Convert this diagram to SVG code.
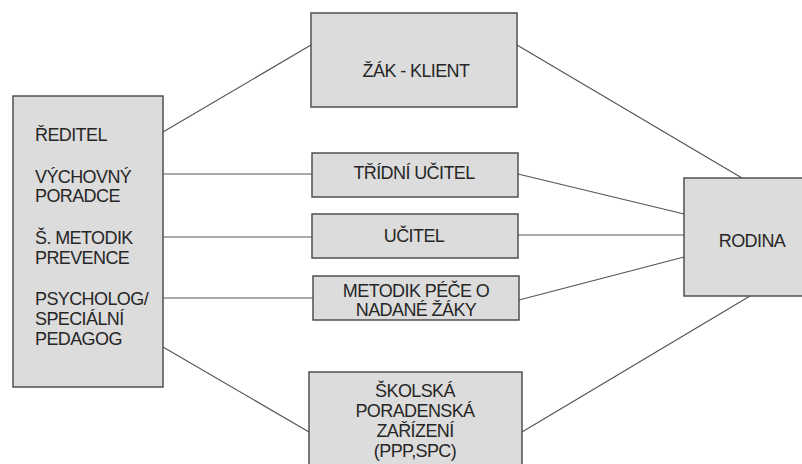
<svg xmlns="http://www.w3.org/2000/svg" width="802" height="464" viewBox="0 0 802 464">
<style>
.box{fill:#dcdcdc;stroke:#505050;stroke-width:1.5}
.ln{stroke:#555;stroke-width:1.2;fill:none}
text{font-family:"Liberation Sans",Arial,sans-serif;font-size:18px;letter-spacing:-0.6px;fill:#262626}
.c{text-anchor:middle}
</style>
<rect width="802" height="464" fill="#fff"/>
<g id="connectors">
<line class="ln" x1="163" y1="132" x2="311" y2="45"/>
<line class="ln" x1="163" y1="174" x2="312" y2="174"/>
<line class="ln" x1="163" y1="237" x2="312" y2="237"/>
<line class="ln" x1="163" y1="298" x2="313" y2="298"/>
<line class="ln" x1="163" y1="347" x2="309" y2="432"/>
<line class="ln" x1="517" y1="45" x2="742" y2="178"/>
<line class="ln" x1="518" y1="174" x2="684" y2="214"/>
<line class="ln" x1="518" y1="235" x2="684" y2="235"/>
<line class="ln" x1="519" y1="300" x2="684" y2="257"/>
<line class="ln" x1="522" y1="432" x2="750" y2="296"/>
</g>
<g id="skola">
<rect class="box" x="13" y="96" width="150" height="291"/>
<text x="35" y="141">ŘEDITEL</text>
<text x="35" y="183"><tspan x="35" y="183">VÝCHOVNÝ</tspan><tspan x="35" y="202">PORADCE</tspan></text>
<text x="35" y="243.5"><tspan x="35" y="243.5">Š. METODIK</tspan><tspan x="35" y="263.5">PREVENCE</tspan></text>
<text x="35" y="305"><tspan x="35" y="305">PSYCHOLOG/</tspan><tspan x="35" y="325">SPECIÁLNÍ</tspan><tspan x="35" y="345">PEDAGOG</tspan></text>
</g>
<g id="zak">
<rect class="box" x="311" y="13" width="206" height="94"/>
<text class="c" x="416" y="77">ŽÁK - KLIENT</text>
</g>
<g id="tridni">
<rect class="box" x="312" y="153" width="206" height="44"/>
<text class="c" x="414" y="179">TŘÍDNÍ UČITEL</text>
</g>
<g id="ucitel">
<rect class="box" x="312" y="214" width="206" height="44"/>
<text class="c" x="414" y="242">UČITEL</text>
</g>
<g id="metodik">
<rect class="box" x="313" y="276" width="206" height="44"/>
<text class="c" x="416" y="296.5"><tspan x="416" y="296.5">METODIK PÉČE O</tspan><tspan x="416" y="316">NADANÉ ŽÁKY</tspan></text>
</g>
<g id="spz">
<rect class="box" x="309" y="372" width="213" height="100"/>
<text class="c" x="415" y="396.5"><tspan x="415" y="396.5">ŠKOLSKÁ</tspan><tspan x="415" y="416.5">PORADENSKÁ</tspan><tspan x="415" y="437">ZAŘÍZENÍ</tspan><tspan x="415" y="457">(PPP,SPC)</tspan></text>
</g>
<g id="rodina">
<rect class="box" x="684" y="178" width="130" height="118"/>
<text class="c" x="752" y="246.5">RODINA</text>
</g>
</svg>
